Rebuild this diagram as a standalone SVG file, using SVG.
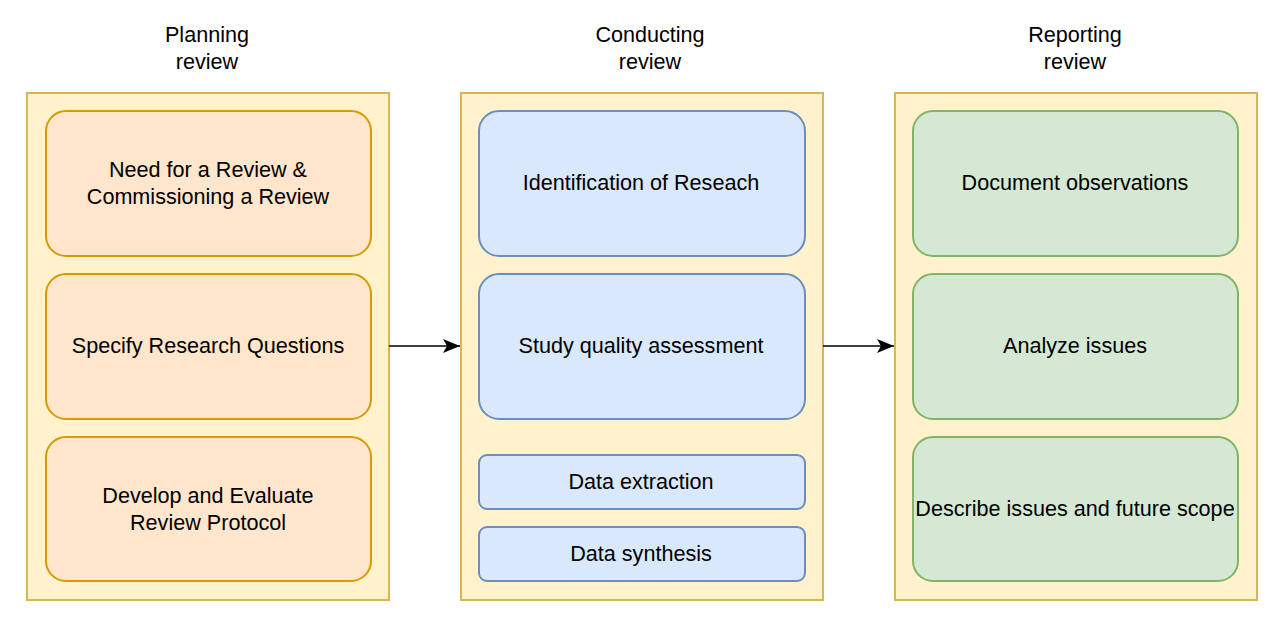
<svg xmlns="http://www.w3.org/2000/svg" width="1281" height="622" viewBox="0 0 1281 622">
<style>
text{font-family:"Liberation Sans",Arial,sans-serif;font-size:21.6px;fill:#000;text-anchor:middle;dominant-baseline:central}
.c{fill:#fff2cc;stroke:#d6b656;stroke-width:2}
.o{fill:#ffe6cc;stroke:#d79b00;stroke-width:2}
.b{fill:#dae8fc;stroke:#6c8ebf;stroke-width:2}
.g{fill:#d5e8d4;stroke:#82b366;stroke-width:2}
.e{stroke:#000;stroke-width:1.5;fill:none}
</style>
<defs><marker id="ah" viewBox="0 0 17 14" refX="17" refY="7" markerWidth="17" markerHeight="14" markerUnits="userSpaceOnUse" orient="auto"><path d="M0,0 L17,7 L0,14 L4,7 Z" fill="#000"/></marker></defs>
<rect width="1281" height="622" fill="#fff"/>
<g id="col-planning">
<text x="207" y="34">Planning</text><text x="207" y="61">review</text>
<rect class="c" x="27" y="93" width="362" height="507"/>
</g>
<g id="col-conducting">
<text x="650" y="34">Conducting</text><text x="650" y="61">review</text>
<rect class="c" x="461" y="93" width="362" height="507"/>
</g>
<g id="col-reporting">
<text x="1075" y="34">Reporting</text><text x="1075" y="61">review</text>
<rect class="c" x="895" y="93" width="362" height="507"/>
</g>
<g id="n1"><rect class="o" x="46" y="111" width="325" height="145" rx="20"/><text x="208" y="169">Need for a Review &amp;</text><text x="208" y="196">Commissioning a Review</text></g>
<g id="n2"><rect class="o" x="46" y="274" width="325" height="145" rx="20"/><text x="208" y="345">Specify Research Questions</text></g>
<g id="n3"><rect class="o" x="46" y="437" width="325" height="144" rx="20"/><text x="208" y="495">Develop and Evaluate</text><text x="208" y="522">Review Protocol</text></g>
<g id="n4"><rect class="b" x="479" y="111" width="326" height="145" rx="20"/><text x="641" y="182">Identification of Reseach</text></g>
<g id="n5"><rect class="b" x="479" y="274" width="326" height="145" rx="20"/><text x="641" y="345">Study quality assessment</text></g>
<g id="n6"><rect class="b" x="479" y="455" width="326" height="54" rx="8"/><text x="641" y="481">Data extraction</text></g>
<g id="n7"><rect class="b" x="479" y="527" width="326" height="54" rx="8"/><text x="641" y="553">Data synthesis</text></g>
<g id="n8"><rect class="g" x="913" y="111" width="325" height="145" rx="20"/><text x="1075" y="182">Document observations</text></g>
<g id="n9"><rect class="g" x="913" y="274" width="325" height="145" rx="20"/><text x="1075" y="345">Analyze issues</text></g>
<g id="n10"><rect class="g" x="913" y="437" width="325" height="144" rx="20"/><text x="1075" y="508">Describe issues and future scope</text></g>
<g id="connectors">
<path class="e" d="M389,346 L460,346" marker-end="url(#ah)"/>
<path class="e" d="M823,346 L894,346" marker-end="url(#ah)"/>
</g>
</svg>
